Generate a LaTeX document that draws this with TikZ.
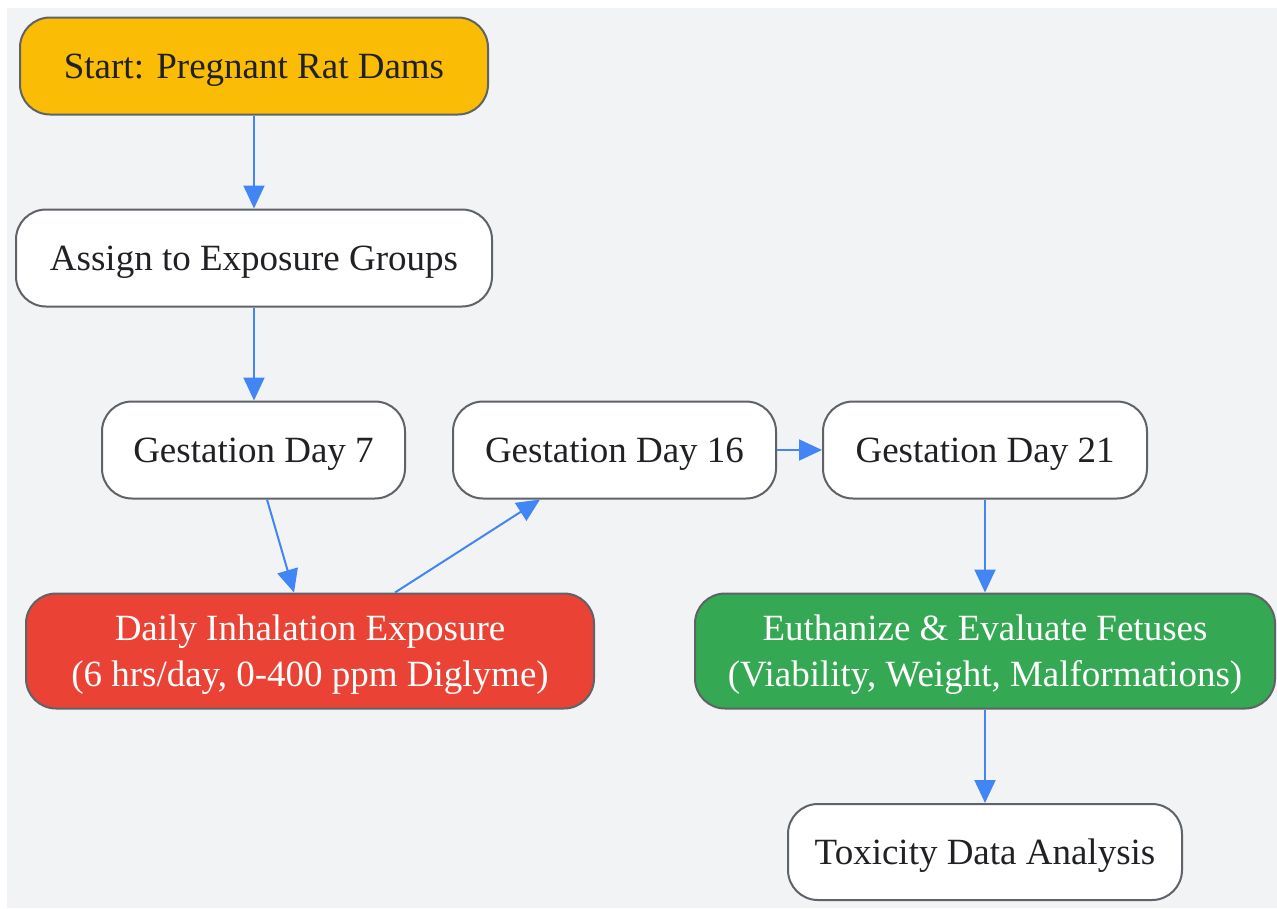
\documentclass[tikz,border=0pt]{standalone}
\usepackage{fontspec}
\setmainfont{Liberation Serif}
\usetikzlibrary{arrows.meta}
\definecolor{bggray}{HTML}{F1F3F4}
\definecolor{bordergray}{HTML}{5F6368}
\definecolor{txtdark}{HTML}{202124}
\definecolor{gyellow}{HTML}{FBBC05}
\definecolor{gred}{HTML}{EA4335}
\definecolor{ggreen}{HTML}{34A853}
\definecolor{gblue}{HTML}{4285F4}
\tikzset{
  box/.style={draw=bordergray, line width=2pt, rounded corners=30pt, fill=white,
    text=txtdark, inner sep=0pt, align=center, text depth=0pt,
    font=\fontsize{37}{46}\selectfont},
  conn/.style={draw=gblue, line width=2pt, -{Triangle[length=23pt,width=21pt]}}
}
\begin{document}
\begin{tikzpicture}[x=1pt,y=-1pt]
\useasboundingbox (0,0) rectangle (1277,908);
\fill[bggray] (7,8) rectangle (1277,908);
\node[box, fill=gyellow, minimum width=468pt, minimum height=97pt] (start) at (254,66) {Start: Pregnant Rat Dams};
\node[box, minimum width=476pt, minimum height=97pt] (assign) at (254,258) {Assign to Exposure Groups};
\node[box, minimum width=303pt, minimum height=97pt] (gd7) at (253.5,450) {Gestation Day 7};
\node[box, minimum width=323pt, minimum height=97pt] (gd16) at (614.5,450) {Gestation Day 16};
\node[box, minimum width=324pt, minimum height=97pt] (gd21) at (985,450) {Gestation Day 21};
\node[box, fill=gred, text=white, minimum width=568pt, minimum height=115pt] (daily) at (310,651) {Daily Inhalation Exposure\\(6 hrs/day, 0-400 ppm Diglyme)};
\node[box, fill=ggreen, text=white, minimum width=580pt, minimum height=115pt] (euth) at (985,651) {Euthanize \& Evaluate Fetuses\\(Viability, Weight, Malformations)};
\node[box, minimum width=394pt, minimum height=96pt] (tox) at (985,852) {Toxicity Data Analysis};
\draw[conn] (start.south) -- (assign.north);
\draw[conn] (assign.south) -- (gd7.north -| assign.south);
\draw[conn] ([xshift=13.5pt]gd7.south) -- ([xshift=-16pt]daily.north);
\draw[conn] ([xshift=85pt]daily.north) -- ([xshift=-74.5pt]gd16.south);
\draw[conn] (gd16.east) -- (gd21.west);
\draw[conn] (gd21.south) -- (euth.north);
\draw[conn] (euth.south) -- (tox.north);
\end{tikzpicture}
\end{document}
